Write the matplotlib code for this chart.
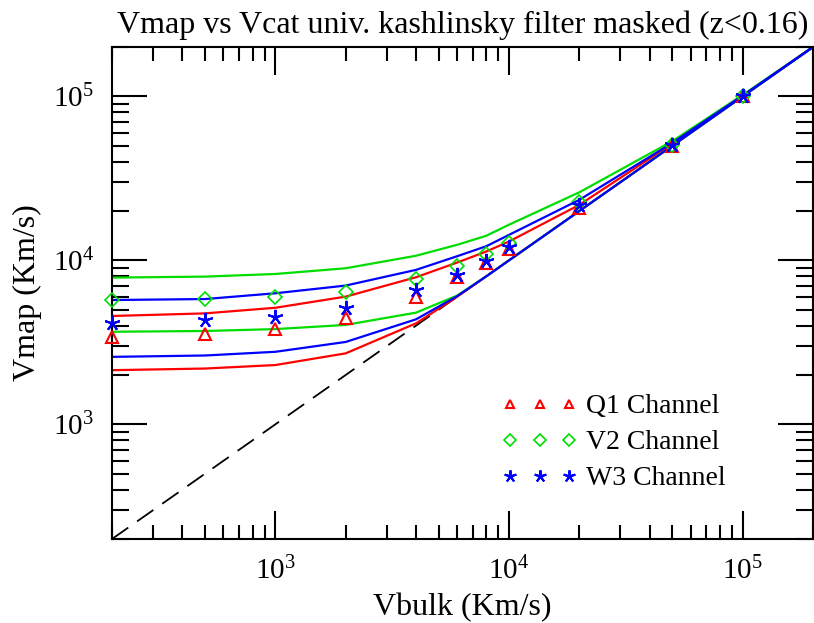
import math
import matplotlib
matplotlib.use("Agg")
import matplotlib.pyplot as plt
from matplotlib.ticker import LogLocator, FuncFormatter, NullFormatter

plt.rcParams['font.family'] = ['Liberation Serif', 'DejaVu Serif']
plt.rcParams['mathtext.fontset'] = 'custom'
plt.rcParams['mathtext.rm'] = 'Liberation Serif'
plt.rcParams['mathtext.it'] = 'Liberation Serif:italic'

# bulk velocity grid (Km/s)
vbulk = [200, 500, 1000, 2000, 4000, 6000, 8000, 10000, 20000, 50000, 100000, 200000]
vbulk_pts = vbulk[:-1]

# recovered Vmap per channel (symbols)
q1_pts = [3420, 3540, 3800, 4430, 6010, 7890, 9620, 11750, 20830, 50000, 100000]
v2_pts = [5730, 5800, 6010, 6440, 7710, 9290, 10960, 12740, 22600, 50500, 100000]
w3_pts = [4130, 4330, 4500, 5110, 6610, 8150, 9970, 12140, 21800, 50500, 100000]

# upper / lower envelopes per channel
q1_hi = [4580, 4750, 5140, 6010, 7890, 9700, 11330, 13030, 21800, 51500, 101000, 200000]
q1_lo = [2140, 2190, 2300, 2710, 4130, 6000, 8000, 10000, 20000, 50000, 100000, 200000]
v2_hi = [7850, 7960, 8260, 8950, 10670, 12440, 14130, 16500, 26000, 53300, 102000, 200000]
v2_lo = [3670, 3710, 3810, 4040, 4800, 6100, 8000, 10000, 20000, 50000, 100000, 200000]
w3_hi = [5730, 5810, 6300, 7020, 8750, 10600, 12200, 14300, 23400, 52000, 101000, 200000]
w3_lo = [2580, 2630, 2770, 3180, 4370, 6050, 8000, 10000, 20000, 50000, 100000, 200000]

RED, GREEN, BLUE = '#ff0000', '#00dd00', '#0000ff'

fig = plt.figure(figsize=(8.14, 6.23), dpi=100)
ax = fig.add_axes([112/814, 1 - 539/623, 701/814, 492/623])

# y = x reference
ax.plot([200, 200000], [200, 200000], color='k', lw=1.3, dashes=(11, 6), zorder=1)

for lo, hi, c in [(q1_lo, q1_hi, RED), (v2_lo, v2_hi, GREEN), (w3_lo, w3_hi, BLUE)]:
    ax.plot(vbulk, hi, color=c, lw=1.6, zorder=2)
    ax.plot(vbulk, lo, color=c, lw=1.6, zorder=2)

ax.plot(vbulk_pts, q1_pts, ls='none', marker='^', ms=8, mfc='none', mec=RED, mew=1.5,
        clip_on=False, zorder=3, label='Q1 Channel')
ax.plot(vbulk_pts, v2_pts, ls='none', marker='D', ms=7.5, mfc='none', mec=GREEN, mew=1.2,
        clip_on=False, zorder=3, label='V2 Channel')
ax.plot(vbulk_pts, w3_pts, ls='none', marker=(5, 2, 0), ms=11, color=BLUE, mew=1.5,
        clip_on=False, zorder=3, label='W3 Channel')

ax.set_xscale('log')
ax.set_yscale('log')
ax.set_xlim(200, 200000)
ax.set_ylim(200, 200000)

fmt = FuncFormatter(lambda v, pos: r'$10^{%d}$' % round(math.log10(v)))
for axis in (ax.xaxis, ax.yaxis):
    axis.set_major_locator(LogLocator(base=10))
    axis.set_minor_locator(LogLocator(base=10, subs=range(2, 10)))
    axis.set_major_formatter(fmt)
    axis.set_minor_formatter(NullFormatter())

ax.tick_params(which='both', direction='in', top=True, right=True, width=1.5, labelsize=21)
ax.tick_params(axis='x', which='major', length=20, pad=13)
ax.tick_params(axis='x', which='minor', length=10)
ax.tick_params(axis='y', which='major', length=25, pad=13)
ax.tick_params(axis='y', which='minor', length=12)
for s in ax.spines.values():
    s.set_linewidth(1.5)

ax.set_xlabel('Vbulk (Km/s)', fontsize=23, labelpad=5)
ax.set_ylabel('Vmap (Km/s)', fontsize=23, labelpad=8)
ax.set_title('Vmap vs Vcat univ. kashlinsky filter masked (z<0.16)', fontsize=23, pad=10)

ax.legend(loc='upper left', bbox_to_anchor=(0.556, 0.295), frameon=False, fontsize=20,
          numpoints=3, handlelength=2.72, handletextpad=0.3, labelspacing=0.38,
          borderpad=0, borderaxespad=0, markerscale=0.8)

fig.savefig('out.png', dpi=100)
